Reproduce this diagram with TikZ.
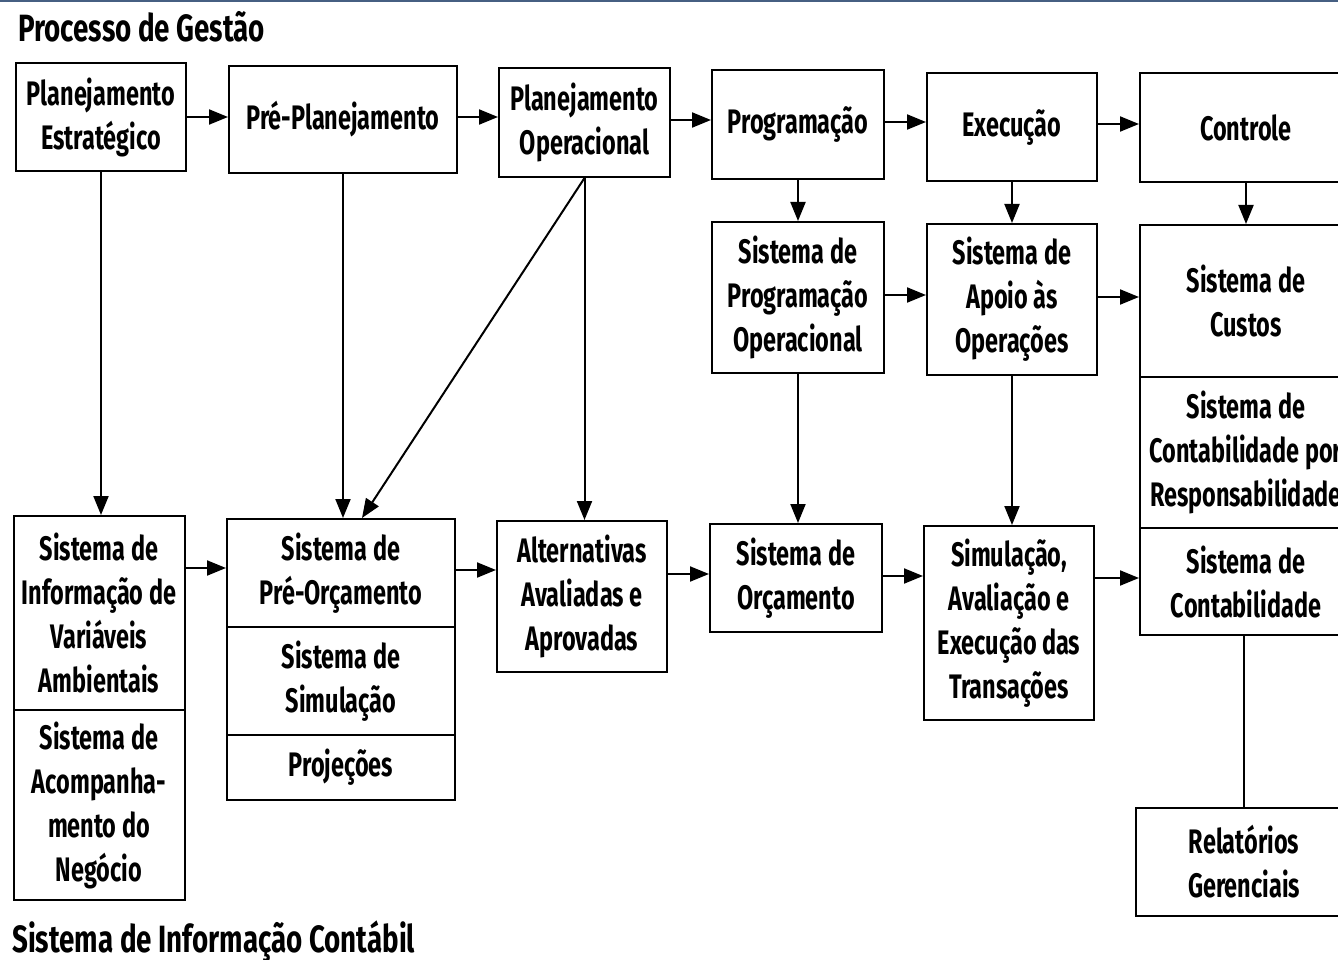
\documentclass[tikz,border=0pt]{standalone}
\usepackage{fontspec}
\setmainfont{Fira Sans}[FakeStretch=0.69]
\newfontfamily\titlefont{Fira Sans}[FakeStretch=0.73]
\usetikzlibrary{arrows.meta}
\definecolor{topline}{RGB}{70,95,130}
\tikzset{
  box/.style={draw=black, line width=2pt, inner sep=0pt, align=center,
    font=\fontsize{34}{44}\selectfont\bfseries},
  arr/.style={line width=2pt, -{Triangle[length=19pt,width=15pt]}},
  plain/.style={line width=2pt},
  title/.style={anchor=base west, inner sep=0pt, font=\titlefont\fontsize{38}{44}\selectfont\bfseries}
}
\begin{document}
\begin{tikzpicture}[x=1pt,y=-1pt]
\useasboundingbox (0,0) rectangle (1338,960);
\clip (0,0) rectangle (1338,960);
\fill[white] (0,0) rectangle (1338,960);
\fill[topline] (0,0) rectangle (1338,2.5);

\node[title] (t1) at (18,42) {Processo de Gestão};
\node[title] (t2) at (12,952) {Sistema de Informação Contábil};

% row 1
\node[box, minimum width=170pt, minimum height=108pt] (pe) at (101,117) {Planejamento\\Estratégico};
\node[box, minimum width=228pt, minimum height=107pt] (pp) at (343,119.5) {Pré-Planejamento};
\node[box, minimum width=171pt, minimum height=109pt] (po) at (584.5,122.5) {Planejamento\\Operacional};
\node[box, minimum width=172pt, minimum height=109pt] (prog) at (798,124.5) {Programação};
\node[box, minimum width=170pt, minimum height=108pt] (exe) at (1012,127) {Execução};
\node[box, minimum width=212pt, minimum height=109pt] (ctl) at (1246,127.5) {Controle};

% row 2
\node[box, minimum width=172pt, minimum height=151pt] (spo) at (798,297.5) {Sistema de\\Programação\\Operacional};
\node[box, minimum width=170pt, minimum height=151pt] (sao) at (1012,299.5) {Sistema de\\Apoio às\\Operações};
\node[box, minimum width=212pt, minimum height=152pt] (cus) at (1246,301) {Sistema de\\Custos};
\node[box, minimum width=212pt, minimum height=151pt] (ccr) at (1246,452.5) {Sistema de\\Contabilidade por\\Responsabilidade};
\node[box, minimum width=212pt, minimum height=107pt] (cont) at (1246,581.5) {Sistema de\\Contabilidade};

% row 3
\node[box, minimum width=171pt, minimum height=194pt] (siva) at (99,613) {Sistema de\\Informação de\\Variáveis\\Ambientais};
\node[box, minimum width=171pt, minimum height=190pt] (san) at (99,805) {Sistema de\\Acompanha-\\mento do\\Negócio};
\node[box, minimum width=228pt, minimum height=108pt] (preo) at (341,573) {Sistema de\\Pré-Orçamento};
\node[box, minimum width=228pt, minimum height=108pt] (sim) at (341,681) {Sistema de\\Simulação};
\node[box, minimum width=228pt, minimum height=65pt] (proj) at (341,767.5) {Projeções};
\node[box, minimum width=170pt, minimum height=151pt] (alt) at (582,596.5) {Alternativas\\Avaliadas e\\Aprovadas};
\node[box, minimum width=172pt, minimum height=108pt] (orc) at (796,578) {Sistema de\\Orçamento};
\node[box, minimum width=170pt, minimum height=194pt] (simu) at (1009,623) {Simulação,\\Avaliação e\\Execução das\\Transações};
\node[box, minimum width=216pt, minimum height=108pt] (rel) at (1244,862) {Relatórios\\Gerenciais};

% top row arrows
\draw[arr] (pe.east) -- (pp.west |- pe.east);
\draw[arr] (pp.east |- 0,117) -- (po.west |- 0,117);
\draw[arr] (po.east |- 0,120) -- (prog.west |- 0,120);
\draw[arr] (prog.east |- 0,122) -- (exe.west |- 0,122);
\draw[arr] (exe.east |- 0,124) -- (ctl.west |- 0,124);

% down arrows to row 2
\draw[arr] (prog.south) -- (spo.north);
\draw[arr] (exe.south) -- (sao.north);
\draw[arr] (ctl.south) -- (cus.north);

% row 2 arrows
\draw[arr] (spo.east |- 0,295) -- (sao.west |- 0,295);
\draw[arr] (sao.east |- 0,297) -- (cus.west |- 0,297);

% long verticals
\draw[arr] (pe.south) -- (pe.south |- siva.north);
\draw[arr] (pp.south) -- (pp.south |- preo.north);
\draw[arr] (po.south) -- (po.south |- alt.north);
\draw[arr] (po.south) -- ([xshift=21pt]preo.north);
\draw[arr] (spo.south) -- (spo.south |- orc.north);
\draw[arr] (sao.south) -- (sao.south |- simu.north);
\draw[plain] (cont.south -| rel.north) -- (rel.north);

% row 3 arrows
\draw[arr] (siva.east |- 0,568) -- (preo.west |- 0,568);
\draw[arr] (preo.east |- 0,570) -- (alt.west |- 0,570);
\draw[arr] (alt.east |- 0,574) -- (orc.west |- 0,574);
\draw[arr] (orc.east |- 0,576) -- (simu.west |- 0,576);
\draw[arr] (simu.east |- 0,578) -- (cont.west |- 0,578);
\end{tikzpicture}
\end{document}
